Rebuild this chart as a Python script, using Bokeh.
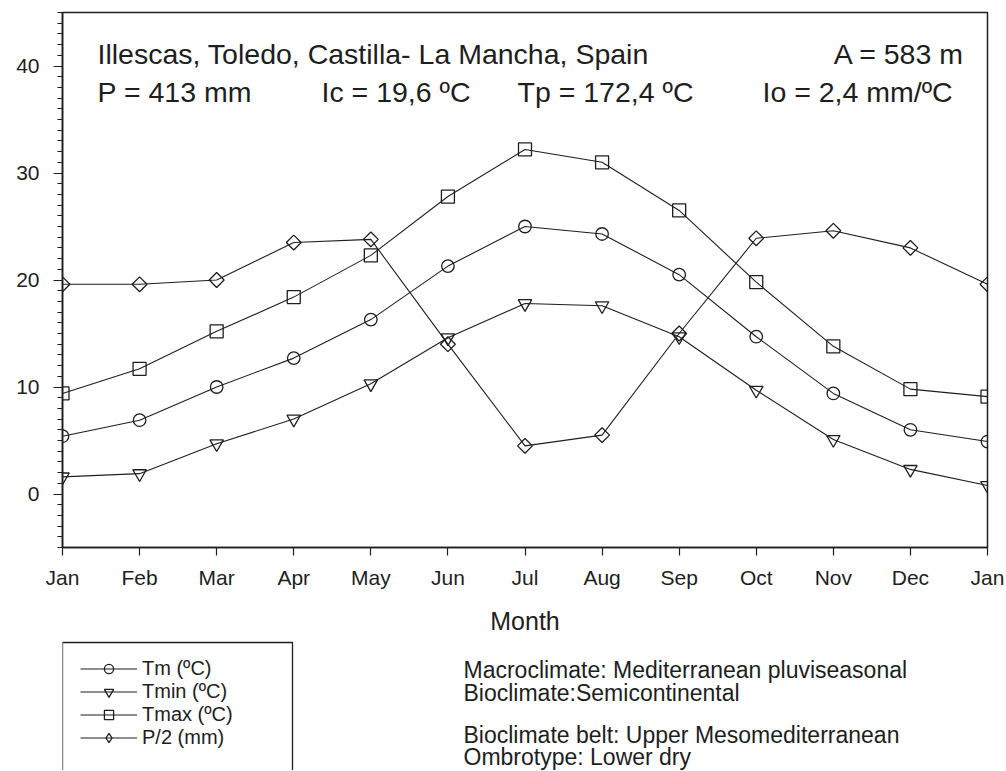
import math
from bokeh.plotting import figure
from bokeh.layouts import column
from bokeh.models import (Range1d, FixedTicker, Label, Legend, LegendItem, BoxAnnotation,
                          CDSView, IndexFilter)
from bokeh.embed import file_html
from bokeh.resources import INLINE

# ---------------- data ----------------
months = ["Jan", "Feb", "Mar", "Apr", "May", "Jun", "Jul", "Aug", "Sep", "Oct", "Nov", "Dec", "Jan"]
tm = [5.4, 6.9, 10.0, 12.7, 16.3, 21.3, 25.0, 24.3, 20.5, 14.7, 9.4, 6.0, 4.9]
tmin = [1.6, 1.9, 4.7, 7.0, 10.3, 14.6, 17.8, 17.6, 14.7, 9.7, 5.1, 2.3, 0.8]
tmax = [9.4, 11.7, 15.2, 18.4, 22.3, 27.8, 32.2, 31.0, 26.5, 19.8, 13.8, 9.8, 9.1]
p_half = [19.6, 19.6, 20.0, 23.5, 23.8, 14.0, 4.5, 5.5, 15.0, 23.9, 24.6, 23.0, 19.6]
y_ticks = [0, 10, 20, 30, 40]
y_minor = list(range(-5, 46))

series_labels = ["Tm (ºC)", "Tmin (ºC)", "Tmax (ºC)", "P/2 (mm)"]

header_1 = "Illescas, Toledo, Castilla- La Mancha, Spain"
header_alt = "A = 583 m"
header_2 = ["P = 413 mm", "Ic = 19,6 ºC", "Tp = 172,4 ºC", "Io = 2,4 mm/ºC"]
notes = ["Macroclimate: Mediterranean pluviseasonal", "Bioclimate:Semicontinental",
         "Bioclimate belt: Upper Mesomediterranean", "Ombrotype: Lower dry"]

x_idx = list(range(len(months)))

FONT = "Liberation Sans"
INK = "#1e1e1e"
W = 1004

# ---------------- main chart ----------------
p = figure(width=W, height=640, output_backend="svg", toolbar_location=None,
           x_range=Range1d(0, len(months) - 1), y_range=Range1d(-5, 45),
           min_border_left=62, min_border_right=17, min_border_top=12, min_border_bottom=93)
p.grid.visible = False
p.outline_line_color = INK
p.outline_line_width = 1.5
p.background_fill_color = "white"
p.border_fill_color = "white"

xa = p.xaxis[0]
xa.ticker = FixedTicker(ticks=x_idx)
xa.major_label_overrides = {i: m for i, m in enumerate(months)}
xa.major_tick_out = 8
xa.major_tick_in = 0
xa.minor_tick_out = 0
xa.minor_tick_in = 0
xa.axis_line_width = 1.6
xa.axis_line_color = INK
xa.major_tick_line_color = INK
xa.major_tick_line_width = 1.2
xa.major_label_standoff = 10
xa.major_label_text_font = FONT
xa.major_label_text_font_size = "21px"
xa.major_label_text_color = INK
xa.axis_label = "Month"
xa.axis_label_text_font = FONT
xa.axis_label_text_font_size = "25px"
xa.axis_label_text_font_style = "normal"
xa.axis_label_text_color = INK
xa.axis_label_standoff = 15

ya = p.yaxis[0]
ya.ticker = FixedTicker(ticks=y_ticks, minor_ticks=y_minor)
ya.major_tick_out = 9
ya.major_tick_in = 0
ya.minor_tick_out = 5
ya.minor_tick_in = 0
ya.axis_line_width = 1.6
ya.axis_line_color = INK
ya.major_tick_line_color = INK
ya.minor_tick_line_color = INK
ya.major_tick_line_width = 1.2
ya.minor_tick_line_width = 1.0
ya.major_label_standoff = 14
ya.major_label_text_font = FONT
ya.major_label_text_font_size = "21px"
ya.major_label_text_color = INK

styles = [("circle", 12.5, 0.0), ("inverted_triangle", 13.5, 0.0), ("square", 13, 0.0), ("square", 10.5, math.pi / 4)]
legend_markers = ["circle", "inverted_triangle", "square", "diamond"]
values = [tm, tmin, tmax, p_half]

for ys, (marker, size, angle) in zip(values, styles):
    p.line(x_idx, ys, line_color=INK, line_width=1.1)
    p.scatter(x_idx, ys, marker=marker, size=size, angle=angle,
              line_color=INK, line_width=1.3, fill_color=None)


def lab(fig, text, x, y, size, align="left"):
    fig.add_layout(Label(x=x, y=y, x_units="screen", y_units="screen", text=text,
                         text_font=FONT, text_font_size=size, text_color=INK,
                         text_align=align, text_baseline="alphabetic"))


lab(p, header_1, 35, 494, "28.5px")
lab(p, header_alt, 902, 494, "28.5px", align="right")
for txt, x in zip(header_2, [35, 259, 455, 700]):
    lab(p, txt, x, 456, "28.5px")

# ---------------- bottom panel: legend + notes ----------------
H2 = 130
# this panel's window lies away from the data, so its legend sample renderers show nothing
p2 = figure(width=W, height=H2, output_backend="svg", toolbar_location=None,
            x_range=Range1d(-3, -2), y_range=Range1d(-3, -2),
            x_axis_type=None, y_axis_type=None,
            min_border_left=0, min_border_right=0, min_border_top=0, min_border_bottom=0)
p2.outline_line_color = None
p2.background_fill_color = "white"
p2.border_fill_color = "white"

items = []
for label, ys, marker in zip(series_labels, values, legend_markers):
    ln = p2.line(x_idx, ys, line_color=INK, line_width=1.1,
                 view=CDSView(filter=IndexFilter(indices=[0])))
    sc = p2.scatter(x_idx, ys, marker=marker, line_color=INK, line_width=1.3, fill_color=None,
                    view=CDSView(filter=IndexFilter(indices=[0])))
    items.append(LegendItem(label=label, renderers=[ln, sc]))

legend = Legend(items=items, location=(18, 21), border_line_alpha=0,
                background_fill_alpha=0, padding=0, spacing=0, margin=0,
                glyph_width=57, glyph_height=23, label_height=23, label_standoff=5,
                label_text_font=FONT, label_text_font_size="20px", label_text_color=INK)
p2.add_layout(legend)

box = BoxAnnotation(left=0, right=230, top=128, bottom=-60,
                    left_units="screen", right_units="screen",
                    top_units="screen", bottom_units="screen",
                    fill_color=None, fill_alpha=0, line_color=INK, line_alpha=1.0,
                    line_width=1.3)
p2.add_layout(box)

for txt, y in zip(notes, [101, 78, 36, 14]):
    lab(p2, txt, 401, y, "23px")

open("out.html", "w").write(file_html(column(p, p2, spacing=0), INLINE))
